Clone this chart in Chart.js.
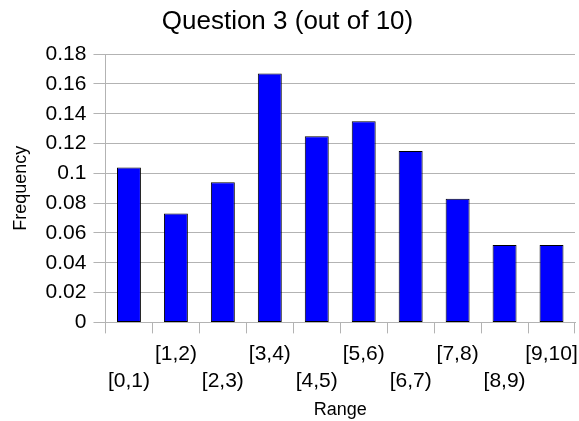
<!DOCTYPE html>
<html>
<head>
<meta charset="utf-8">
<script src="https://cdn.jsdelivr.net/npm/chart.js@4/dist/chart.umd.min.js"></script>
<style>
  html, body { margin: 0; padding: 0; background: #fff; }
  #wrap { width: 579px; height: 421px; }
</style>
</head>
<body>
<div id="wrap"><canvas id="chart" width="579" height="421"></canvas></div>
<script>
const categories = ['[0,1)', '[1,2)', '[2,3)', '[3,4)', '[4,5)', '[5,6)', '[6,7)', '[7,8)', '[8,9)', '[9,10]'];
const frequencies = [0.104, 0.073, 0.094, 0.167, 0.125, 0.135, 0.115, 0.083, 0.052, 0.052];
const yMax = 0.18;
const yStep = 0.02;

const font = 'Liberation Sans, Arial, sans-serif';
const gridGray = '#b3b3b3';

new Chart(document.getElementById('chart'), {
    type: 'bar',
    data: {
        labels: categories,
        datasets: [{
            label: 'Frequency',
            data: frequencies,
            backgroundColor: '#0000ff',
            borderColor: '#000000',
            borderWidth: 1,
            borderSkipped: false,
            barPercentage: 0.51,
            categoryPercentage: 1,
        }],
    },
    options: {
        responsive: false,
        animation: false,
        layout: { padding: { left: 0, right: 4, top: 6, bottom: 0 } },
        plugins: {
            legend: { display: false },
            tooltip: { enabled: false },
            title: {
                display: true,
                text: 'Question 3 (out of 10)',
                color: '#000',
                font: { family: font, size: 26, weight: 'normal' },
                padding: { top: 0, bottom: 17 },
            },
        },
        scales: {
            x: {
                afterFit(scale) {
                    // labels overhang the edges slightly, like the original
                    scale.paddingLeft = 0;
                    scale.paddingRight = 0;
                    // tick padding is reserved twice by fit(); keep it once
                    scale.height -= scale.options.ticks.padding;
                },
                grid: { display: true, drawOnChartArea: false, offset: true, color: gridGray, tickLength: 11 },
                border: { display: true, color: gridGray },
                ticks: {
                    color: '#000',
                    font: { family: font, size: 21, lineHeight: 1.286 },
                    maxRotation: 0,
                    autoSkip: false,
                    padding: 7,
                    callback: (value, index) => index % 2 === 0 ? ['', categories[index]] : [categories[index]],
                },
                title: {
                    display: true,
                    text: 'Range',
                    color: '#000',
                    font: { family: font, size: 18 },
                    padding: { top: 5, bottom: 0 },
                },
            },
            y: {
                min: 0,
                max: yMax,
                afterFit(scale) {
                    scale.width -= scale.options.ticks.padding;
                },
                grid: { color: gridGray, tickLength: 12 },
                border: { display: true, color: gridGray },
                ticks: {
                    stepSize: yStep,
                    color: '#000',
                    font: { family: font, size: 21 },
                    padding: 7,
                    callback: (value) => String(parseFloat(value.toFixed(2))),
                },
                title: {
                    display: true,
                    text: 'Frequency',
                    color: '#000',
                    font: { family: font, size: 18 },
                    padding: { top: 10, bottom: 14 },
                },
            },
        },
    },
});
</script>
</body>
</html>
